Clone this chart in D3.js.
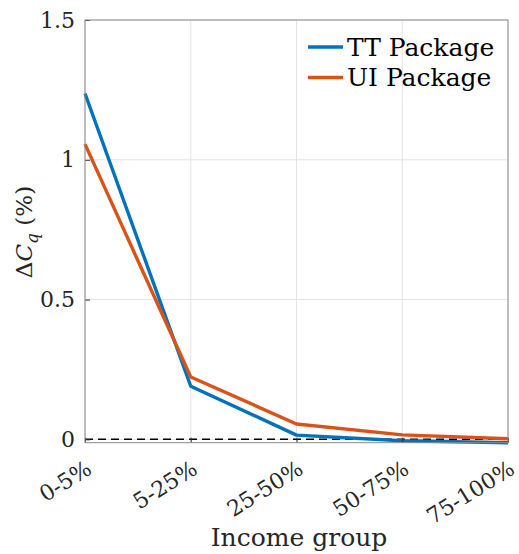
<!DOCTYPE html>
<html>
<head>
<meta charset="utf-8">
<script src="https://cdn.jsdelivr.net/npm/d3@7"></script>
<style>
  html, body { margin: 0; padding: 0; background: #fff; }
</style>
</head>
<body>
<svg id="chart" width="519" height="554"></svg>
<script>
// Income groups along the x axis
const groups = ["0-5%", "5-25%", "25-50%", "50-75%", "75-100%"];
// Consumption change by income group, in percent
const ttPackage = [1.237, 0.19, 0.015, -0.005, -0.012];
const uiPackage = [1.056, 0.223, 0.055, 0.016, 0.002];
const yTicks = [0, 0.5, 1, 1.5];
const yTickLabels = ["0", "0.5", "1", "1.5"];
const seriesNames = ["TT Package", "UI Package"];
const seriesColors = ["#0072BD", "#D95319"];

const FONT = "'DejaVu Serif', serif";
const svg = d3.select("#chart");
const m = { left: 85, right: 508, top: 20, bottom: 442.7 };

const x = d3.scalePoint().domain(groups).range([m.left, m.right]);
const y = d3.scaleLinear().domain([-0.012, 1.5]).range([m.bottom, m.top]);

// Grid lines
const grid = svg.append("g");
grid.selectAll(".gx").data(groups).join("line")
  .attr("x1", d => x(d)).attr("x2", d => x(d))
  .attr("y1", m.top).attr("y2", m.bottom)
  .attr("stroke", "#e3e3e3").attr("stroke-width", 1);
grid.selectAll(".gy").data(yTicks).join("line")
  .attr("x1", m.left).attr("x2", m.right)
  .attr("y1", d => y(d)).attr("y2", d => y(d))
  .attr("stroke", "#e3e3e3").attr("stroke-width", 1);

// Zero reference line
svg.append("line")
  .attr("x1", m.left).attr("x2", m.right)
  .attr("y1", y(0)).attr("y2", y(0))
  .attr("stroke", "#000").attr("stroke-width", 1.5)
  .attr("stroke-dasharray", "8,5");

// Series lines
const line = d3.line().x((d, i) => x(groups[i])).y(d => y(d));
[ttPackage, uiPackage].forEach((vals, k) => {
  svg.append("path").datum(vals)
    .attr("d", line)
    .attr("fill", "none")
    .attr("stroke", seriesColors[k])
    .attr("stroke-width", 3.4)
    .attr("stroke-linejoin", "round");
});

// Axes box
const axisColor = "#8a8a8a";
const xAxis = d3.axisBottom(x).tickSize(-5).tickFormat("");
const yAxis = d3.axisLeft(y).tickValues(yTicks).tickSize(-5).tickFormat("");
const gx = svg.append("g").attr("transform", `translate(0,${m.bottom})`).call(xAxis);
const gy = svg.append("g").attr("transform", `translate(${m.left},0)`).call(yAxis);
[gx, gy].forEach(g => {
  g.select(".domain").remove();
  g.selectAll(".tick line").attr("stroke", "#333");
});
svg.append("rect")
  .attr("x", m.left).attr("y", m.top)
  .attr("width", m.right - m.left).attr("height", m.bottom - m.top)
  .attr("fill", "none").attr("stroke", axisColor).attr("stroke-width", 1);

// Y tick labels
svg.selectAll(".ylab").data(yTicks).join("text")
  .attr("x", m.left - 10).attr("y", d => y(d))
  .attr("dy", "0.35em")
  .attr("text-anchor", "end")
  .attr("font-family", FONT)
  .attr("font-size", 22)
  .attr("fill", "#262626")
  .text((d, i) => yTickLabels[i]);

// X tick labels, rotated
svg.selectAll(".xlab").data(groups).join("text")
  .attr("transform", d => `translate(${x(d)},${m.bottom + 17}) rotate(-32)`)
  .attr("text-anchor", "end")
  .attr("dy", "0.7em")
  .attr("font-family", FONT)
  .attr("font-size", 22)
  .attr("fill", "#262626")
  .text(d => d);

// Axis titles
svg.append("text")
  .attr("x", 299).attr("y", 546)
  .attr("text-anchor", "middle")
  .attr("font-family", FONT)
  .attr("font-size", 25)
  .attr("fill", "#262626")
  .text("Income group");

const yt = svg.append("text")
  .attr("transform", "translate(32,232) rotate(-90)")
  .attr("text-anchor", "middle")
  .attr("font-family", FONT)
  .attr("font-size", 23)
  .attr("fill", "#262626");
yt.append("tspan").text("Δ");
yt.append("tspan").attr("font-style", "italic").text("C");
yt.append("tspan").attr("font-style", "italic").attr("font-size", 17).attr("dy", 6).text("q");
yt.append("tspan").attr("dy", -6).text(" (%)");

// Legend
const legend = svg.append("g");
seriesNames.forEach((name, k) => {
  const ly = 47 + k * 30.5;
  legend.append("line")
    .attr("x1", 308).attr("x2", 343)
    .attr("y1", ly).attr("y2", ly)
    .attr("stroke", seriesColors[k]).attr("stroke-width", 3.4);
  legend.append("text")
    .attr("x", 347).attr("y", ly)
    .attr("dy", "0.35em")
    .attr("font-family", FONT)
    .attr("font-size", 25)
    .attr("fill", "#000")
    .text(name);
});
</script>
</body>
</html>
